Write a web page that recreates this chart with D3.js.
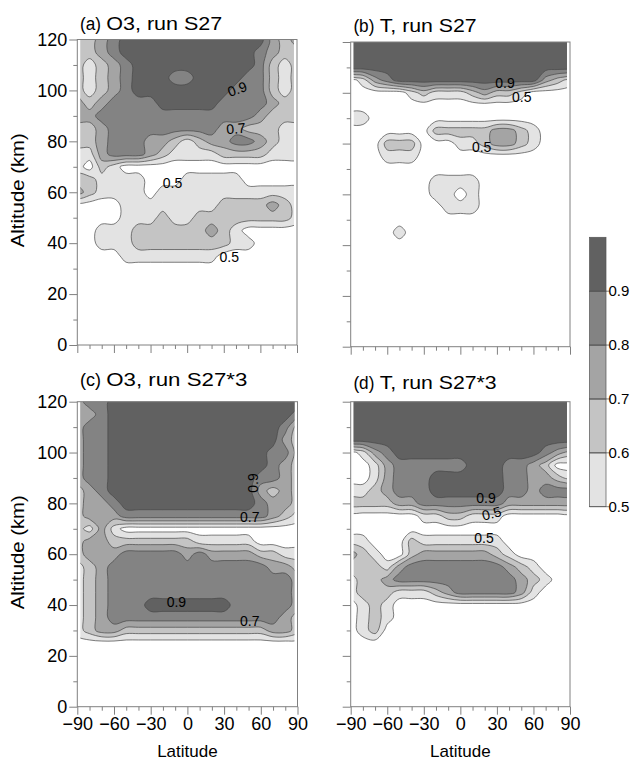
<!DOCTYPE html>
<html>
<head>
<meta charset="utf-8">
<script src="https://cdn.jsdelivr.net/npm/d3@7"></script>
<style>
  body { margin: 0; background: #fff; }
  svg text { font-family: "Liberation Sans", Arial, sans-serif; fill: #000; }
</style>
</head>
<body>
<script>
// grid: columns = latitude, rows = altitude from 120 km down to 0 km
const lats = d3.range(-90, 91, 10);
const alts = d3.range(120, -1, -5);
const levels = [0.5, 0.6, 0.7, 0.8, 0.9];
const latTicks = [-90, -60, -30, 0, 30, 60, 90];
const altTicks = [0, 20, 40, 60, 80, 100, 120];

// each digit d is a value of d/10 + 0.05 ("4" = below 0.5)
const o3S27 = [
  "6678999999999999767",
  "6678999999999998766",
  "6567899999999998656",
  "6567899988999988656",
  "6567899999999888656",
  "7678888999998888766",
  "7788888888888887666",
  "6678888888887766655",
  "6678887765677887655",
  "5578887655556666555",
  "5465444444444444444",
  "6655554445555544444",
  "7655554555555555555",
  "4444555555556666765",
  "4444555655666666665",
  "4455566666676544444",
  "4455566666666554444",
  "4444555555554444444",
  "4444444444444444444",
  "4444444444444444444",
  "4444444444444444444",
  "4444444444444444444",
  "4444444444444444444",
  "4444444444444444444",
  "4444444444444444444"
];

const tS27 = [
  "9999999999999999999",
  "9999999999999999999",
  "9999999999999999999",
  "4578999999999999765",
  "4444456555676654444",
  "4444444444444444444",
  "5544444444444444444",
  "4444444666667765444",
  "4446664445567765444",
  "4445554444444444444",
  "4444444444444444444",
  "4444444555544444444",
  "4444444554544444444",
  "4444444455544444444",
  "4444444444444444444",
  "4444544444444444444",
  "4444444444444444444",
  "4444444444444444444",
  "4444444444444444444",
  "4444444444444444444",
  "4444444444444444444",
  "4444444444444444444",
  "4444444444444444444",
  "4444444444444444444",
  "4444444444444444444"
];

const o3S27x3 = [
  "7889999999999999999",
  "7789999999999999998",
  "7889999999999999986",
  "7889999999999999976",
  "7889999999999999886",
  "7889999999999999876",
  "7889999999999998876",
  "6789999999999997676",
  "6778999999999998776",
  "6777888888888888765",
  "6575444444444444444",
  "6776666666555554444",
  "6777888887877776655",
  "5678888888888888776",
  "5678888888888888887",
  "5678888888888888887",
  "5678889999999888887",
  "5678888888888888876",
  "5677666666666666776",
  "4444444444444444444",
  "4444444444444444444",
  "4444444444444444444",
  "4444444444444444444",
  "4444444444444444444",
  "4444444444444444444"
];

const tS27x3 = [
  "9999999999999999999",
  "9999999999999999999",
  "9999999999999999999",
  "9999999999999999999",
  "4578999999999999876",
  "4457888888999887644",
  "4457888999999887765",
  "5567888999999887888",
  "6666778888888777777",
  "4444445566555444444",
  "4444444444444444444",
  "5544465555555444444",
  "7654467777776544444",
  "6665788888888765444",
  "5667888888888876544",
  "5666555678888875444",
  "4565444444444444444",
  "4565444444444444444",
  "4564444444444444444",
  "4444444444444444444",
  "4444444444444444444",
  "4444444444444444444",
  "4444444444444444444",
  "4444444444444444444",
  "4444444444444444444"
];

// contour labels: panel index, text, latitude, altitude, rotation
const contourLabels = [
  [0, "0.9", 41, 100.5, -20], [0, "0.7", 40, 85, -5], [0, "0.5", -12, 63.5, 0], [0, "0.5", 34.5, 34.7, 0],
  [1, "0.9", 36.7, 103.8, 0], [1, "0.5", 50.4, 98.2, 0], [1, "0.5", 17.5, 78.5, 0],
  [2, "0.9", 53.5, 88, -90], [2, "0.7", 51, 74.6, 0], [2, "0.9", -9, 41.3, 0], [2, "0.7", 51, 33.8, 0],
  [3, "0.9", 21, 82.2, 0], [3, "0.5", 25.7, 76, -15], [3, "0.5", 19.4, 66.5, 0]
];

const shades = ["#e3e3e3", "#c4c4c4", "#a4a4a4", "#838383", "#616161"];
const axisGray = "#808080";

const svg = d3.select("body").append("svg")
    .attr("width", 633)
    .attr("height", 761);

const panels = [
  {tag: "(a)", title: "O3, run S27", grid: o3S27, x0: 77.3, x1: 297, y0: 39.5, y1: 345, ty: 30, tw: 116, left: true, bottom: false},
  {tag: "(b)", title: "T, run S27", grid: tS27, x0: 350.7, x1: 570, y0: 42, y1: 346.7, ty: 32, tw: 97, left: false, bottom: false},
  {tag: "(c)", title: "O3, run S27*3", grid: o3S27x3, x0: 77.3, x1: 297.5, y0: 401.7, y1: 706.7, ty: 386, tw: 141, left: true, bottom: true},
  {tag: "(d)", title: "T, run S27*3", grid: tS27x3, x0: 350.7, x1: 570, y0: 401.7, y1: 706.7, ty: 389, tw: 117, left: false, bottom: true}
];

const nx = lats.length, ny = alts.length;
const contours = d3.contours().size([nx, ny]).thresholds(levels);
const ringLine = d3.line().curve(d3.curveCatmullRomClosed.alpha(0.5));

panels.forEach(function(p, i) {
    let x = d3.scaleLinear().domain([-90, 90]).range([p.x0, p.x1]);
    let y = d3.scaleLinear().domain([0, 120]).range([p.y1, p.y0]);

    let values = [];
    p.grid.forEach(function(row) {
        for (const ch of row) values.push(+ch / 10 + 0.05);
    });

    // grid value k sits at coordinate k + 0.5
    function toPx(pt) {
        return [x(lats[0] + (pt[0] - 0.5) * 10), y(alts[0] - (pt[1] - 0.5) * 5)];
    }
    function bandPath(d) {
        let s = "";
        d.coordinates.forEach(function(poly) {
            poly.forEach(function(ring) {
                s += ringLine(ring.slice(0, -1).map(toPx));
            });
        });
        return s;
    }

    svg.append("clipPath").attr("id", "clip" + i)
      .append("rect")
        .attr("x", x(-87.5))
        .attr("y", y(120))
        .attr("width", x(87.5) - x(-87.5))
        .attr("height", y(0) - y(120));

    let bands = contours(values);
    let g = svg.append("g").attr("clip-path", "url(#clip" + i + ")");
    g.selectAll("path.fill")
        .data(bands)
        .enter()
        .append("path")
            .attr("class", "fill")
            .attr("d", bandPath)
            .attr("fill-rule", "evenodd")
            .attr("fill", function(d, k) { return shades[k]; });
    g.selectAll("path.line")
        .data(bands)
        .enter()
        .append("path")
            .attr("class", "line")
            .attr("d", bandPath)
            .attr("fill", "none")
            .attr("stroke", "#474747")
            .attr("stroke-width", 0.7);

    // frame
    svg.append("rect")
        .attr("x", p.x0).attr("y", p.y0)
        .attr("width", p.x1 - p.x0).attr("height", p.y1 - p.y0)
        .attr("fill", "none")
        .attr("stroke", axisGray)
        .attr("stroke-width", 1);

    // y axis, major and minor ticks
    svg.append("g")
        .attr("transform", "translate(" + p.x0 + ",0)")
        .call(d3.axisLeft(y).tickValues(altTicks).tickSize(8).tickPadding(2)
            .tickFormat(p.left ? d3.format("d") : ""));
    svg.append("g")
        .attr("transform", "translate(" + p.x0 + ",0)")
        .call(d3.axisLeft(y).tickValues(d3.range(10, 120, 20)).tickSize(4).tickFormat(""));

    svg.append("g")
        .attr("transform", "translate(0," + p.y1 + ")")
        .call(d3.axisBottom(x).tickValues(latTicks).tickSize(8).tickPadding(3)
            .tickFormat(p.bottom ? d3.format("d") : ""));
    svg.append("g")
        .attr("transform", "translate(0," + p.y1 + ")")
        .call(d3.axisBottom(x).tickValues(lats.filter(function(v) { return v % 30 !== 0; }))
            .tickSize(4).tickFormat(""));

    svg.selectAll(".domain").remove();
    svg.selectAll(".tick line").attr("stroke", axisGray);
    svg.selectAll(".tick text")
        .style("font-family", "Liberation Sans, Arial, sans-serif")
        .style("font-size", "18px")
        .attr("fill", "#000");

    // panel title
    svg.append("text")
        .attr("x", p.x0 + 2.7).attr("y", p.ty)
        .attr("textLength", 21)
        .attr("lengthAdjust", "spacingAndGlyphs")
        .style("font-size", "18px")
        .text(p.tag);
    svg.append("text")
        .attr("x", p.x0 + 29).attr("y", p.ty)
        .attr("textLength", p.tw)
        .attr("lengthAdjust", "spacingAndGlyphs")
        .style("font-size", "18px")
        .text(p.title);

    // contour labels
    contourLabels.filter(function(l) { return l[0] === i; }).forEach(function(l) {
        svg.append("text")
            .attr("transform", "translate(" + x(l[2]) + "," + y(l[3]) + ") rotate(" + l[4] + ")")
            .attr("text-anchor", "middle")
            .attr("dy", "0.35em")
            .style("font-size", "14px")
            .text(l[1]);
    });

    if (p.left) {
        svg.append("text")
            .attr("transform", "translate(24," + ((p.y0 + p.y1) / 2 - 2) + ") rotate(-90)")
            .attr("text-anchor", "middle")
            .attr("textLength", 114)
            .attr("lengthAdjust", "spacingAndGlyphs")
            .style("font-size", "18px")
            .text("Altitude (km)");
    }
    if (p.bottom) {
        svg.append("text")
            .attr("x", (p.x0 + p.x1) / 2)
            .attr("y", 757)
            .attr("text-anchor", "middle")
            .style("font-size", "17px")
            .text("Latitude");
    }
});

// colour bar
let cb = d3.scaleLinear().domain([0.5, 1.0]).range([506.7, 237.3]);
let cbLevels = levels.concat([1.0]);
svg.selectAll("rect.cb")
    .data(levels)
    .enter()
    .append("rect")
        .attr("class", "cb")
        .attr("x", 589.5)
        .attr("y", function(d, k) { return cb(cbLevels[k + 1]); })
        .attr("width", 16.5)
        .attr("height", function(d, k) { return cb(d) - cb(cbLevels[k + 1]); })
        .attr("fill", function(d, k) { return shades[k]; })
        .attr("stroke", "#555")
        .attr("stroke-width", 0.7);
svg.selectAll("line.cbt")
    .data(levels)
    .enter()
    .append("line")
        .attr("class", "cbt")
        .attr("x1", 589.5).attr("x2", 609.5)
        .attr("y1", function(d) { return cb(d); })
        .attr("y2", function(d) { return cb(d); })
        .attr("stroke", "#555")
        .attr("stroke-width", 0.7);
svg.selectAll("text.cbl")
    .data(levels)
    .enter()
    .append("text")
        .attr("class", "cbl")
        .attr("x", 608.5)
        .attr("y", function(d) { return cb(d); })
        .attr("dy", "0.35em")
        .style("font-size", "15px")
        .text(function(d) { return d3.format(".1f")(d); });
</script>
</body>
</html>
